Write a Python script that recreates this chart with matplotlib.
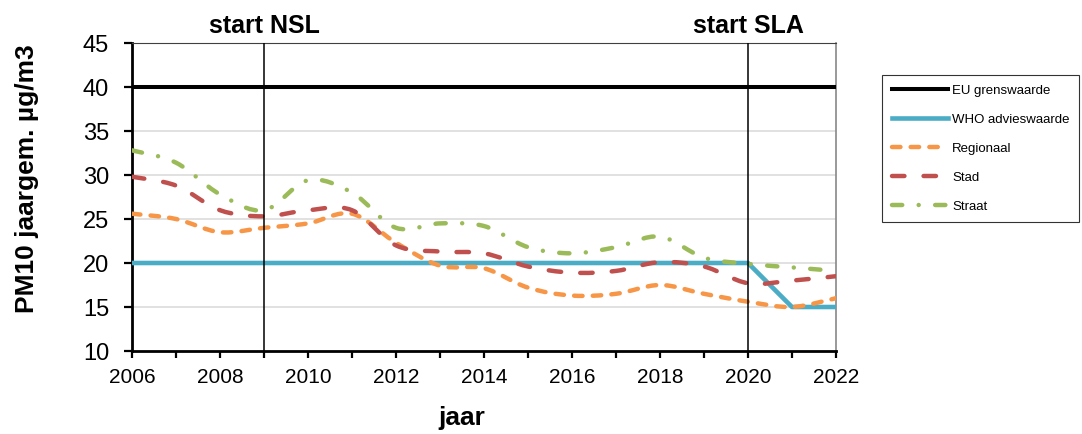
import matplotlib

matplotlib.use("Agg")
import matplotlib.pyplot as plt
from matplotlib.lines import Line2D
from matplotlib.patches import PathPatch
from matplotlib.path import Path

plt.rcParams["font.family"] = ["Liberation Sans", "DejaVu Sans"]

years = list(range(2006, 2023))
eu_limit = [40] * 17
who_advice = [20, 20, 20, 20, 20, 20, 20, 20, 20, 20, 20, 20, 20, 20, 20, 15, 15]
regionaal = [25.6, 25.0, 23.5, 24.0, 24.5, 25.6, 22.3, 19.7, 19.4, 17.2, 16.3, 16.5, 17.5, 16.5, 15.6, 15.0, 16.0]
stad = [29.8, 28.8, 26.0, 25.3, 26.0, 26.0, 22.0, 21.3, 21.1, 19.6, 18.9, 19.1, 20.1, 19.6, 17.7, 18.0, 18.5]
straat = [32.8, 31.4, 27.8, 26.0, 29.4, 28.0, 24.0, 24.5, 24.2, 21.8, 21.1, 21.8, 23.0, 20.6, 19.9, 19.5, 19.1]
events = [(2009, "start NSL"), (2020, "start SLA")]

C_BLACK = "#000000"
C_WHO = "#4bacc6"
C_REG = "#f79646"
C_STAD = "#c0504d"
C_STRAAT = "#9bbb59"

LS_REG = (0, (1.9, 2.3))
LS_STAD = (0, (2.8, 4.3))
LS_STRAAT = (0, (2.3, 3.7, 0.01, 3.7))


def smooth_path(xs, ys):
    # Excel-style smoothed line: cubic bezier through every point
    pts = list(zip(xs, ys))
    verts = [pts[0]]
    codes = [Path.MOVETO]
    n = len(pts)
    for i in range(n - 1):
        p0 = pts[i - 1] if i > 0 else pts[i]
        p1 = pts[i]
        p2 = pts[i + 1]
        p3 = pts[i + 2] if i + 2 < n else pts[i + 1]
        c1 = (p1[0] + (p2[0] - p0[0]) / 6, p1[1] + (p2[1] - p0[1]) / 6)
        c2 = (p2[0] - (p3[0] - p1[0]) / 6, p2[1] - (p3[1] - p1[1]) / 6)
        verts += [c1, c2, p2]
        codes += [Path.CURVE4] * 3
    return Path(verts, codes)


fig = plt.figure(figsize=(10.82, 4.34), dpi=100)
ax = fig.add_axes([132 / 1082, 83 / 434, 704 / 1082, 308 / 434])

ax.set_xlim(2006, 2022)
ax.set_ylim(10, 45)

for y in range(15, 45, 5):
    ax.axhline(y, color="#d9d9d9", lw=1.1, zorder=1)

ax.plot(years, eu_limit, color=C_BLACK, lw=2.9, zorder=3)
ax.plot(years, who_advice, color=C_WHO, lw=3.3, zorder=3)

for vals, col, ls in [(regionaal, C_REG, LS_REG), (stad, C_STAD, LS_STAD), (straat, C_STRAAT, LS_STRAAT)]:
    patch = PathPatch(smooth_path(years, vals), fill=False, edgecolor=col, lw=3.2, linestyle=ls,
                      capstyle="round", zorder=4)
    ax.add_patch(patch)

for x, label in events:
    ax.axvline(x, color=C_BLACK, lw=1.1, zorder=5)
    ax.text(x, 45.6, label, ha="center", va="bottom", fontsize=18, fontweight="bold")

ax.spines["left"].set_linewidth(2)
ax.spines["bottom"].set_linewidth(2)
ax.spines["top"].set_color("#404040")
ax.spines["top"].set_linewidth(0.8)
ax.spines["right"].set_color("#888888")
ax.spines["right"].set_linewidth(1.2)

ax.set_yticks(range(10, 46, 5))
ax.set_xticks(range(2006, 2023, 2))
ax.set_xticks(range(2006, 2023), minor=True)
ax.tick_params(axis="both", which="both", direction="out", width=1.6, labelsize=15)
ax.tick_params(axis="y", length=6, pad=10.5, labelsize=17)
ax.tick_params(axis="x", which="both", length=5, pad=7)

fig.text(27 / 1082, 1 - 179 / 434, "PM10 jaargem. µg/m3", rotation=90, ha="center", va="center",
         fontsize=19, fontweight="bold")
fig.text(462 / 1082, 1 - 418 / 434, "jaar", ha="center", va="center", fontsize=19, fontweight="bold")

handles = [
    Line2D([], [], color=C_BLACK, lw=2.9),
    Line2D([], [], color=C_WHO, lw=3.3),
    Line2D([], [], color=C_REG, lw=3.2, linestyle=LS_REG, dash_capstyle="round"),
    Line2D([], [], color=C_STAD, lw=3.2, linestyle=LS_STAD, dash_capstyle="round"),
    Line2D([], [], color=C_STRAAT, lw=3.2, linestyle=LS_STRAAT, dash_capstyle="round"),
]
labels = ["EU grenswaarde", "WHO advieswaarde", "Regionaal", "Stad", "Straat"]
leg = fig.legend(handles, labels, loc="upper left", bbox_to_anchor=(882 / 1082, 1 - 75 / 434),
                 fontsize=9.5, handlelength=4.3, handletextpad=0.3, labelspacing=1.27,
                 borderpad=0.72, frameon=True, fancybox=False, borderaxespad=0)
leg.get_frame().set_edgecolor("#000000")
leg.get_frame().set_linewidth(0.8)

plt.savefig("out.png", dpi=100)
